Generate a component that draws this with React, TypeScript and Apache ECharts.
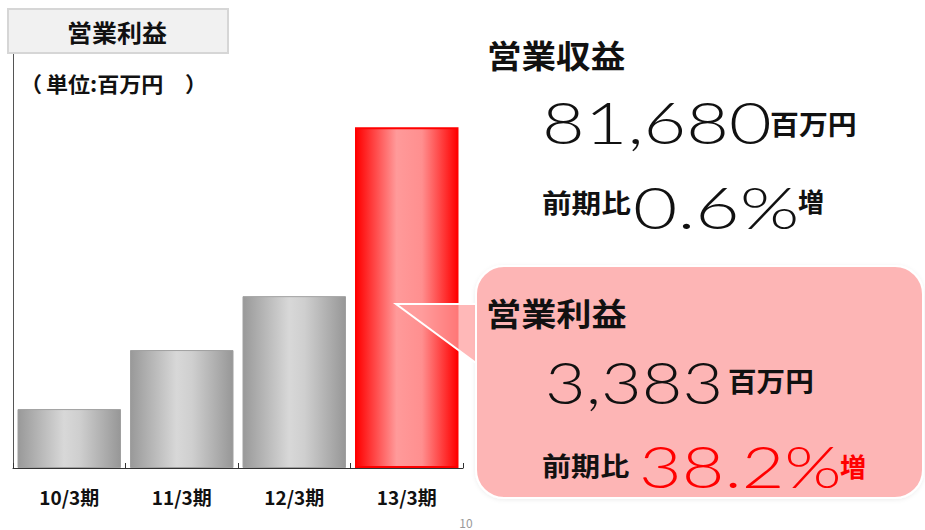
import React, { useEffect, useRef } from "react";
import * as echarts from "echarts";

const categories = ["10/3期", "11/3期", "12/3期", "13/3期"];
const profitValues = [585, 1171, 1706, 3383];
const highlightIndex = 3;

const CJK = "'Noto Sans CJK JP', sans-serif";
const THIN = "Lato, 'Open Sans', sans-serif";

function txt(text: string, x: number, y: number, font: string, fill: string, scaleX = 1, align = "left") {
  return {
    type: "text",
    z: 20,
    x,
    y,
    scaleX,
    style: { text, font, fill, align, verticalAlign: "middle" },
  };
}

export default function App() {
  const ref = useRef<HTMLDivElement>(null);
  useEffect(() => {
    document.body.style.margin = "0";
    const chart = echarts.init(ref.current!, null, { renderer: "svg" });
    const grey = new echarts.graphic.LinearGradient(0, 0, 1, 0, [
      { offset: 0, color: "#999999" },
      { offset: 0.45, color: "#d8d8d8" },
      { offset: 0.6, color: "#cfcfcf" },
      { offset: 1, color: "#979797" },
    ]);
    const red = new echarts.graphic.LinearGradient(0, 0, 1, 0, [
      { offset: 0, color: "#ff0000" },
      { offset: 0.4, color: "#ff9a9a" },
      { offset: 0.65, color: "#ff8f8f" },
      { offset: 1, color: "#ff0000" },
    ]);
    const pink = "rgba(255,160,160,0.75)";
    chart.setOption({
      animation: false,
      grid: { left: 13, right: 462, top: 54, bottom: 62 },
      xAxis: {
        type: "category",
        data: categories,
        axisLine: { lineStyle: { color: "#333", width: 1 } },
        axisTick: { show: true, inside: true, length: 5, lineStyle: { color: "#333" } },
        axisLabel: { fontSize: 19, fontWeight: "bold", color: "#111", fontFamily: CJK, margin: 19 },
      },
      yAxis: {
        type: "value",
        min: 0,
        max: 4110,
        splitLine: { show: false },
        axisLabel: { show: false },
        axisTick: { show: false },
        axisLine: { show: true, lineStyle: { color: "#555", width: 1 } },
      },
      series: [
        {
          type: "bar",
          barCategoryGap: "8%",
          data: profitValues.map((v, i) => ({
            value: v,
            itemStyle:
              i === highlightIndex
                ? { color: red, borderColor: "#ff0000", borderWidth: 2 }
                : { color: grey, borderColor: "#a0a0a0", borderWidth: 1 },
          })),
        },
      ],
      graphic: [
        {
          type: "rect",
          z: 10,
          shape: { x: 8, y: 9, width: 220, height: 44 },
          style: { fill: "#f1f1f1", stroke: "#d6d6d6", lineWidth: 2 },
        },
        txt("営業利益", 117, 32, `bold 24px ${CJK}`, "#111", 1.04, "center"),
        txt("（", 20, 83, `bold 21px ${CJK}`, "#111", 1.05),
        txt("単位:百万円", 46, 83, `bold 21px ${CJK}`, "#111", 1.05),
        txt("）", 185, 83, `bold 21px ${CJK}`, "#111", 1.05),
        txt("営業収益", 487, 54, `bold 32px ${CJK}`, "#111", 1.08),
        txt("81,680", 542, 122, `300 58px ${THIN}`, "#111", 1.27),
        txt("百万円", 770, 123, `bold 27px ${CJK}`, "#111", 1.07),
        txt("前期比", 542, 202, `bold 26px ${CJK}`, "#111", 1.14),
        txt("0.6%", 633, 206, `300 58px ${THIN}`, "#111", 1.32),
        txt("増", 798, 200, `bold 26px ${CJK}`, "#111", 1),
        {
          type: "rect",
          z: 15,
          shape: { x: 476, y: 266, width: 447, height: 232, r: 28 },
          style: { fill: pink, stroke: "#ffffff", lineWidth: 2, shadowBlur: 4, shadowColor: "rgba(0,0,0,0.08)", shadowOffsetY: 1 },
        },
        {
          type: "polygon",
          z: 15,
          shape: { points: [[396, 304], [476, 304], [476, 363]] },
          style: { fill: pink, stroke: "#ffffff", lineWidth: 2 },
        },
        txt("営業利益", 486, 312, `bold 32px ${CJK}`, "#111", 1.1),
        txt("3,383", 545, 381, `300 58px ${THIN}`, "#111", 1.21),
        txt("百万円", 728, 380, `bold 27px ${CJK}`, "#111", 1.06),
        txt("前期比", 542, 465, `bold 26px ${CJK}`, "#111", 1.12),
        txt("38.2%", 639, 466, `300 58px ${THIN}`, "#ff0000", 1.27),
        txt("増", 840, 465, `bold 26px ${CJK}`, "#ff0000", 1),
        txt("10", 466, 522, `12px ${CJK}`, "#999", 1, "center"),
      ],
    });
    return () => chart.dispose();
  }, []);
  return <div ref={ref} style={{ width: 925, height: 530 }} />;
}
